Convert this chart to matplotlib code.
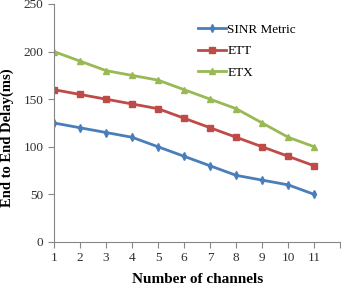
import matplotlib
matplotlib.use("Agg")
import matplotlib.pyplot as plt

# Data
channels = [1, 2, 3, 4, 5, 6, 7, 8, 9, 10, 11]
sinr_metric = [125, 120, 115, 110, 100, 90, 80, 70, 65, 60, 50]
ett = [160, 155, 150, 145, 140, 130, 120, 110, 100, 90, 80]
etx = [200, 190, 180, 175, 170, 160, 150, 140, 125, 110, 100]

plt.rcParams["font.family"] = ["Liberation Serif", "DejaVu Serif"]

fig = plt.figure(figsize=(3.41, 2.85), dpi=100)
ax = fig.add_axes([54 / 341, 1 - 242 / 285, 1 - 54 / 341 - 0.002, (242 - 4) / 285])

ax.plot(channels, sinr_metric, color="#4A7EBB", marker="d", markersize=4, linewidth=2, label="SINR Metric")
ax.plot(channels, ett, color="#BE4B48", marker="s", markersize=4, linewidth=2, label="ETT")
ax.plot(channels, etx, color="#98B954", marker="^", markersize=4, linewidth=2, label="ETX")

ax.set_xlim(1, 12)
ax.set_ylim(0, 250)
ax.set_xticks(range(1, 13))
ax.set_xticklabels([str(c) for c in channels] + [""])
ax.set_yticks(range(0, 251, 50))

for side in ["top", "right"]:
    ax.spines[side].set_visible(False)
for side in ["left", "bottom"]:
    ax.spines[side].set_color("#868686")
ax.tick_params(axis="both", colors="#868686", labelcolor="#303030", labelsize=9.5, length=4, direction="out")

ax.set_xlabel("Number of channels", fontsize=11, fontweight="bold", labelpad=6)
ax.set_ylabel("End to End Delay(ms)", fontsize=10.5, fontweight="bold")
ax.yaxis.set_label_coords(-0.14, 0.44)

ax.legend(loc="upper left", bbox_to_anchor=(0.485, 0.94), frameon=False, fontsize=9.5,
          handlelength=2.1, handletextpad=0.1, labelspacing=0.7, borderaxespad=0)

fig.savefig("out.png", dpi=100)
